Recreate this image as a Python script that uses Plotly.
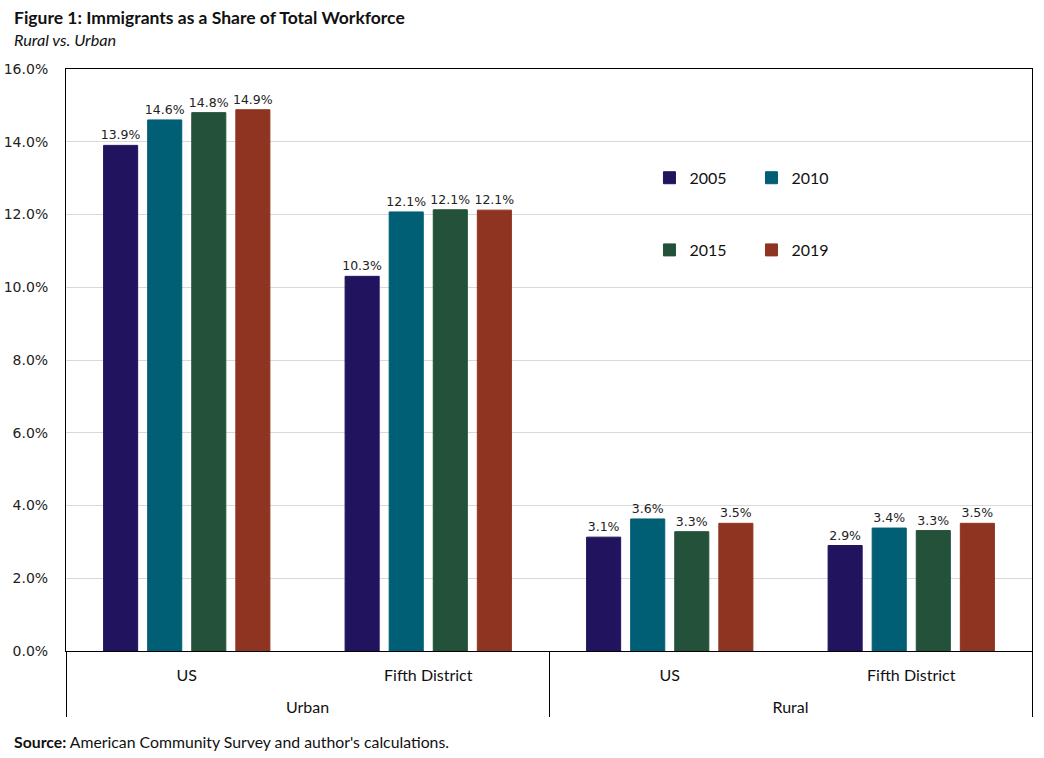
import plotly.graph_objects as go

outer = ["Urban", "Urban", "Rural", "Rural"]
inner = ["US", "Fifth District", "US", "Fifth District"]
years = ["2005", "2010", "2015", "2019"]
v2005 = [13.9, 10.3, 3.13, 2.9]
v2010 = [14.6, 12.07, 3.63, 3.38]
v2015 = [14.8, 12.13, 3.28, 3.31]
v2019 = [14.88, 12.12, 3.51, 3.51]
colors = ["#22135E", "#005E75", "#23513A", "#8E3421"]
series = [v2005, v2010, v2015, v2019]
legend_ids = ["legend", "legend", "legend2", "legend2"]

outer_disp = ["<br>" + o for o in outer]

fig = go.Figure()
for name, vals, col, lg in zip(years, series, colors, legend_ids):
    fig.add_trace(go.Bar(
        x=[outer_disp, inner], y=vals, name=name,
        marker=dict(color=col, line=dict(color=col, width=1)),
        texttemplate="%{y:.1f}%", textposition="outside",
        textfont=dict(family="DejaVu Sans", size=12.5, color="#222222"),
        constraintext="none",
        cliponaxis=False, legend=lg,
    ))

legend_common = dict(orientation="h", xanchor="left", yanchor="middle",
                     font=dict(family="Lato", size=16, color="#111111"),
                     bgcolor="rgba(0,0,0,0)", entrywidth=57, itemwidth=30,
                     traceorder="normal")

fig.update_layout(
    width=1044, height=758,
    margin=dict(l=66, r=12, t=69, b=107, autoexpand=False),
    paper_bgcolor="white", plot_bgcolor="white",
    barmode="group", bargap=0.27, bargroupgap=0.227,
    showlegend=True,
    legend=dict(x=0.604, y=0.813, **legend_common),
    legend2=dict(x=0.604, y=0.689, **legend_common),
    yaxis=dict(range=[0, 16], dtick=2, tickformat=".1f", ticksuffix="%",
               showgrid=True, gridcolor="#D9D9D9", gridwidth=1,
               showline=True, linecolor="black", linewidth=1, mirror=True,
               ticks="", zeroline=False, automargin=False,
               ticklabelstandoff=14,
               tickfont=dict(family="DejaVu Sans", size=14, color="#222222")),
    xaxis=dict(type="multicategory", showline=True, linecolor="black",
               linewidth=1, mirror=True, ticks="", automargin=False,
               ticklabelstandoff=10,
               showdividers=True, dividercolor="black", dividerwidth=1,
               tickfont=dict(family="Lato", size=16, color="#111111")),
    font=dict(family="Lato"),
)

fig.add_annotation(text="<b>Figure 1: Immigrants as a Share of Total Workforce</b>",
                   xref="paper", yref="paper", x=-0.056, y=1.089, xanchor="left",
                   yanchor="middle", showarrow=False,
                   font=dict(family="Lato", size=17.5, color="#111111"))
fig.add_annotation(text="<i>Rural vs. Urban</i>",
                   xref="paper", yref="paper", x=-0.056, y=1.050, xanchor="left",
                   yanchor="middle", showarrow=False,
                   font=dict(family="Lato", size=16.3, color="#111111"))
fig.add_annotation(text="<b>Source:</b> American Community Survey and author's calculations.",
                   xref="paper", yref="paper", x=-0.056, y=-0.156, xanchor="left",
                   yanchor="middle", showarrow=False,
                   font=dict(family="Lato", size=15.8, color="#111111"))

fig.write_html("out.html", config={"displayModeBar": False},
               post_script="document.body.style.margin='0';")
